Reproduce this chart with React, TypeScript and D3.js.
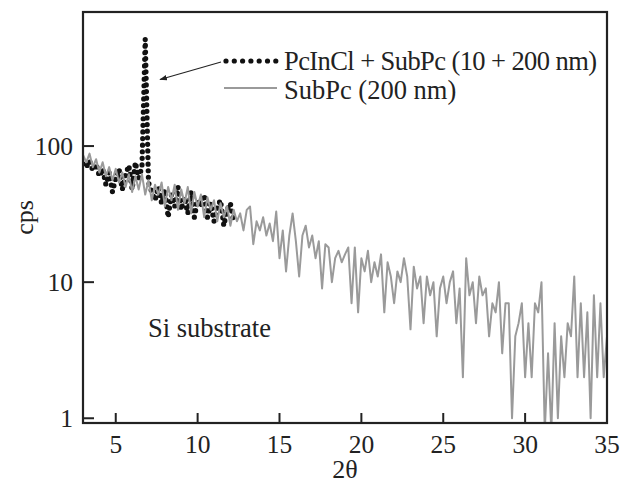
import React from "react";
import * as d3 from "d3";

// SubPc (200 nm): 2θ from 3.0 to 35.0, step 0.2
const greyStart = 3.0;
const greyStep = 0.2;
const greyValues = [
  86, 76, 88, 70, 80, 64, 76, 60, 70, 56,
  68, 54, 64, 50, 62, 46, 60, 48, 62, 44,
  56, 40, 52, 44, 54, 36, 50, 40, 52, 34,
  48, 38, 50, 32, 46, 36, 44, 30, 42, 34,
  40, 28, 38, 30, 36, 26, 34, 28, 32, 24,
  34, 36, 19, 28, 24, 30, 22, 27, 20, 33,
  15, 24, 12, 22, 32, 20, 11, 22, 26, 18,
  22, 15, 20, 9, 19, 18, 10, 15, 17, 14,
  16, 18, 7, 18, 6, 15, 12, 17, 10, 14,
  11, 16, 6, 14, 11, 7, 12, 10, 15, 11,
  4.5, 13, 9, 11, 5, 11, 8, 10, 4, 9,
  11, 7, 10, 12, 5, 9, 2, 15, 8, 10,
  5, 11, 8, 9, 4, 7, 6, 10, 3, 7,
  7, 1, 4, 5, 7, 2, 5, 2, 7, 6,
  10, 0.8, 3, 0.8, 5, 1, 4, 2, 5, 4,
  11, 2, 7, 2, 6, 1, 8, 2, 7, 2,
  4,
];

// PcInCl + SubPc (10 + 200 nm)
const blackX = [
  3.0, 3.2, 3.4, 3.6, 3.8, 4.0, 4.2, 4.4, 4.6, 4.8,
  5.0, 5.2, 5.4, 5.6, 5.8, 6.0, 6.2, 6.4, 6.6, 6.8,
  7.0, 7.2, 7.4, 7.6, 7.8, 8.0, 8.2, 8.4, 8.6, 8.8,
  9.0, 9.2, 9.4, 9.6, 9.8, 10.0, 10.2, 10.4, 10.6, 10.8,
  11.0, 11.2, 11.4, 11.6, 11.8, 12.0, 12.2,
];
const blackValues = [
  74, 70, 78, 66, 74, 60, 68, 52, 64, 46,
  58, 68, 48, 62, 72, 48, 76, 58, 70, 610,
  54, 46, 40, 50, 38, 48, 30, 44, 36, 50,
  34, 42, 32, 46, 30, 40, 36, 44, 30, 38,
  28, 36, 40, 26, 34, 38, 28,
];

const xTicks = [5, 10, 15, 20, 25, 30, 35];
const yTicks = [1, 10, 100];
const legendLabels = ["PcInCl + SubPc (10 + 200 nm)", "SubPc (200 nm)"];
const xLabel = "2θ";
const yLabel = "cps";
const annotation = "Si substrate";

export default function App() {
  const W = 623;
  const H = 486;
  const left = 83, right = 607, top = 12, bottom = 423;
  const x = d3.scaleLinear().domain([3, 35]).range([left, right]);
  const y = d3.scaleLog().domain([0.923, 966]).range([bottom, top]);

  const greyData = greyValues.map((v, i) => [greyStart + i * greyStep, v] as [number, number]);
  const blackData = blackX.map((xv, i) => [xv, blackValues[i]] as [number, number]);
  const line = d3.line<[number, number]>().x((d) => x(d[0])).y((d) => y(d[1]));

  const font = "'Liberation Serif', 'Times New Roman', serif";
  const ink = "#222222";
  const grey = "#9a9a9a";

  return (
    <svg width={W} height={H} style={{ position: "absolute", left: 0, top: 0 }}>
      <defs>
        <clipPath id="plotclip">
          <rect x={left} y={top} width={right - left} height={bottom - top} />
        </clipPath>
        <marker id="arrowhead" viewBox="0 0 10 10" refX="9" refY="5" markerWidth="7" markerHeight="7" orient="auto">
          <path d="M0,1.5 L10,5 L0,8.5 Z" fill={ink} />
        </marker>
      </defs>
      <rect width={W} height={H} fill="#fff" />
      <g clipPath="url(#plotclip)">
        <path
          d={line(blackData) || ""}
          fill="none"
          stroke="#111"
          strokeWidth={5.2}
          strokeLinecap="round"
          strokeDasharray="0 6.6"
        />
        <path d={line(greyData) || ""} fill="none" stroke={grey} strokeWidth={2} strokeLinejoin="round" />
      </g>
      <rect x={left} y={top} width={right - left} height={bottom - top} fill="none" stroke={ink} strokeWidth={2.2} />
      {yTicks.map((t) => (
        <g key={"y" + t}>
          <line x1={left} x2={left + 11} y1={y(t)} y2={y(t)} stroke={ink} strokeWidth={2} />
          <text x={left - 10} y={y(t)} dy="0.35em" textAnchor="end" fontFamily={font} fontSize={25.5} fill={ink}>
            {t}
          </text>
        </g>
      ))}
      {xTicks.map((t) => (
        <g key={"x" + t}>
          {t < 35 && <line x1={x(t)} x2={x(t)} y1={bottom} y2={bottom - 10} stroke={ink} strokeWidth={2} />}
          <text x={x(t)} y={bottom + 30} textAnchor="middle" fontFamily={font} fontSize={25.5} fill={ink}>
            {t}
          </text>
        </g>
      ))}
      <text x={(left + right) / 2} y={478} textAnchor="middle" fontFamily={font} fontSize={26} fill={ink}>
        {xLabel}
      </text>
      <text
        transform={`translate(${33},${(top + bottom) / 2}) rotate(-90)`}
        textAnchor="middle"
        fontFamily={font}
        fontSize={26}
        fill={ink}
      >
        {yLabel}
      </text>
      <text x={148} y={337} fontFamily={font} fontSize={26.5} fill={ink}>
        {annotation}
      </text>
      <line x1={226} x2={276} y1={61} y2={61} stroke="#111" strokeWidth={5.2} strokeLinecap="round" strokeDasharray="0 8.3" />
      <text x={284} y={70} fontFamily={font} fontSize={26.5} fill={ink} textLength={313} lengthAdjust="spacing">
        {legendLabels[0]}
      </text>
      <line x1={224} x2={277} y1={88} y2={88} stroke={grey} strokeWidth={2} />
      <text x={284} y={99} fontFamily={font} fontSize={26.5} fill={ink}>
        {legendLabels[1]}
      </text>
      <line x1={221} x2={160} y1={62} y2={79.5} stroke={ink} strokeWidth={1.1} markerEnd="url(#arrowhead)" />
    </svg>
  );
}
